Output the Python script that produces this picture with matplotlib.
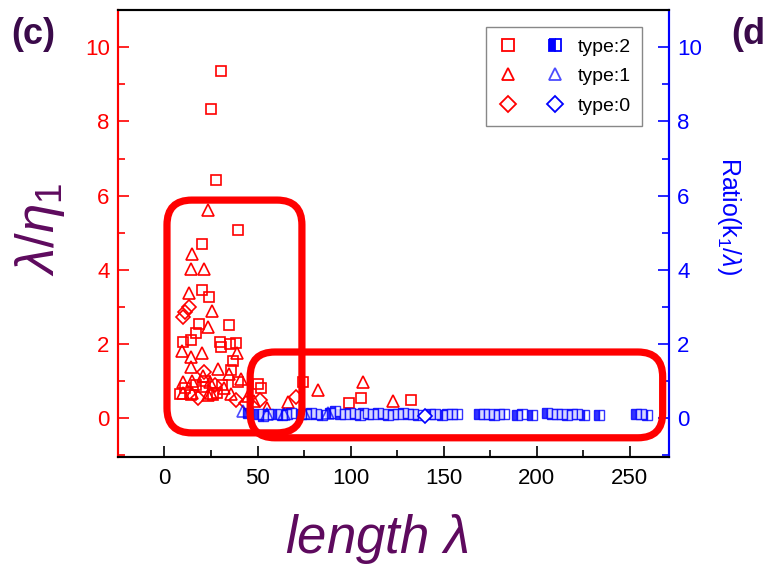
import matplotlib.pyplot as plt
from matplotlib.patches import FancyBboxPatch
from matplotlib.legend_handler import HandlerTuple
from matplotlib.lines import Line2D

plt.rcParams['font.family'] = ['Liberation Sans', 'DejaVu Sans']
plt.rcParams['mathtext.fontset'] = 'custom'
plt.rcParams['mathtext.it'] = 'Liberation Sans:italic'
plt.rcParams['mathtext.rm'] = 'Liberation Sans'

RED = '#ff0000'
BLUE = '#0000ff'
PURPLE = '#5e0a5e'

# lambda/eta1 (left axis)
t2_x = [30.2, 24.8, 27.5, 39.3, 19.9, 20.0, 23.7, 34.5, 18.3, 17.0, 9.7, 14.5, 29.6,
        30.2, 35.0, 38.3, 36.6, 36.0, 8.6, 14.5, 17.0, 20.5, 28.0, 10.8, 26.0, 39.5,
        50.0, 52.0, 74.6, 99.0, 105.6, 132.5, 22.0, 31.0]
t2_y = [9.35, 8.33, 6.41, 5.07, 4.69, 3.45, 3.26, 2.50, 2.53, 2.30, 2.05, 2.10, 2.05,
        1.91, 2.00, 2.02, 1.54, 1.30, 0.65, 0.62, 0.89, 0.84, 0.68, 0.80, 0.62, 0.97,
        0.92, 0.80, 0.97, 0.40, 0.54, 0.49, 1.00, 0.90]

t1_x = [23.2, 15.0, 14.4, 21.0, 13.0, 25.4, 23.3, 9.2, 14.0, 20.0, 38.8, 14.5, 29.0,
        34.5, 9.7, 15.0, 20.5, 24.2, 10.0, 15.0, 25.0, 32.0, 41.0, 36.0, 55.0, 66.5,
        82.4, 106.7, 123.0, 23.2, 45.0, 48.0]
t1_y = [5.60, 4.42, 4.02, 4.02, 3.37, 2.88, 2.45, 1.80, 1.65, 1.75, 1.75, 1.37, 1.32,
        1.19, 0.97, 1.00, 1.13, 0.97, 0.68, 0.68, 0.68, 0.80, 1.05, 0.65, 0.27, 0.43,
        0.75, 0.98, 0.46, 0.62, 0.60, 0.45]

t0_x = [13.0, 10.2, 11.0, 18.0, 21.5, 38.6, 51.3, 70.5, 27.0, 44.0]
t0_y = [3.00, 2.72, 2.85, 0.55, 1.24, 0.50, 0.50, 0.57, 0.90, 0.40]

# Ratio(k1/lambda) (right axis)
r2_x = [45.0, 50.3, 53.0, 55.7, 60.2, 62.9, 65.6, 68.2, 73.6, 76.3, 79.0, 81.7, 84.4,
        88.9, 91.6, 94.3, 97.0, 99.7, 102.4, 105.0, 106.9, 109.6, 112.2, 114.9, 117.6,
        120.3, 123.0, 125.7, 128.4, 131.1, 133.8, 136.5, 142.8, 145.5, 149.1, 151.8,
        154.5, 157.2, 168.8, 171.5, 174.2, 176.9, 179.6, 182.3, 189.5, 192.2, 197.6,
        205.7, 208.4, 211.0, 213.7, 216.4, 219.1, 221.8, 225.4, 233.5, 253.2, 255.9,
        259.5]
r2_y = [0.15, 0.10, 0.05, 0.10, 0.12, 0.08, 0.10, 0.15, 0.12, 0.10, 0.15, 0.10, 0.08,
        0.15, 0.18, 0.12, 0.10, 0.15, 0.12, 0.08, 0.15, 0.10, 0.12, 0.15, 0.10,
        0.08, 0.12, 0.10, 0.15, 0.12, 0.10, 0.08, 0.10, 0.10, 0.08, 0.10,
        0.10, 0.10, 0.10, 0.12, 0.10, 0.08, 0.10, 0.10, 0.08, 0.10, 0.08,
        0.15, 0.10, 0.10, 0.10, 0.08, 0.10, 0.10, 0.08, 0.08, 0.12, 0.10,
        0.08]

r1_x = [42.0, 55.0, 64.0, 75.0, 88.0]
r1_y = [0.18, 0.12, 0.12, 0.15, 0.15]

r0_x = [140.0]
r0_y = [0.05]

fig = plt.figure(figsize=(7.66, 5.67), dpi=100)
ax = fig.add_axes([0.154, 0.194, 0.719, 0.788])
ax2 = ax.twinx()

ms = dict(linestyle='none', markerfacecolor='none', markeredgewidth=1.2)
ax.plot(t2_x, t2_y, marker='s', markersize=7, color=RED, **ms)
ax.plot(t1_x, t1_y, marker='^', markersize=9, color=RED, **ms)
ax.plot(t0_x, t0_y, marker='D', markersize=7, color=RED, **ms)

ax2.plot(r2_x, r2_y, marker='s', markersize=7, linestyle='none', color=BLUE,
         fillstyle='left', markerfacecoloralt='white', markeredgewidth=1.0, alpha=0.8)
ax2.plot(r1_x, r1_y, marker='^', markersize=8, color=BLUE, alpha=0.7, **ms)
ax2.plot(r0_x, r0_y, marker='D', markersize=7, color=BLUE, linestyle='none',
         markerfacecolor='white', markeredgewidth=1.2)

for a in (ax, ax2):
    a.set_xlim(-25, 271)
    a.set_ylim(-1.05, 11)
    a.set_yticks([0, 2, 4, 6, 8, 10])
    a.set_yticks(range(-1, 12, 2), minor=True)

ax.set_xticks([0, 50, 100, 150, 200, 250])
ax.set_xticks([25, 75, 125, 175, 225], minor=True)

ax.tick_params(axis='both', which='major', direction='in', length=8, width=1.2, labelsize=16)
ax.tick_params(axis='both', which='minor', direction='in', length=5, width=1.2)
ax.tick_params(axis='y', which='both', colors=RED, labelcolor=RED)
ax.tick_params(axis='x', which='both', colors='black', pad=8)
ax.tick_params(axis='y', pad=6)
ax2.tick_params(axis='y', which='major', direction='in', length=8, width=1.2,
                colors=BLUE, labelcolor=BLUE, labelsize=16, pad=6)
ax2.tick_params(axis='y', which='minor', direction='in', length=5, width=1.2, colors=BLUE)

for a in (ax, ax2):
    a.spines['left'].set_color(RED)
    a.spines['right'].set_color(BLUE)
    a.spines['top'].set_color('black')
    a.spines['bottom'].set_color('black')
    for s in a.spines.values():
        s.set_linewidth(1.5)

ax.set_xlabel(r'$\mathit{length}\ \lambda$', fontsize=38, color=PURPLE)
ax.xaxis.set_label_coords(0.47, -0.122)
ax.set_ylabel(r'$\lambda/\eta_1$', fontsize=38, color=PURPLE)
ax.yaxis.set_label_coords(-0.092, 0.51)
ax2.set_ylabel(r'Ratio(k$_1$/$\lambda$)', fontsize=18, color=BLUE, rotation=270)
ax2.yaxis.set_label_coords(1.135, 0.54)

fig.text(0.015, 0.922, '(c)', fontsize=26, fontweight='bold', color='#3a0a4a')
fig.text(0.955, 0.922, '(d', fontsize=26, fontweight='bold', color='#3a0a4a')

# highlight boxes
box_kw = dict(boxstyle='round,pad=0,rounding_size=0.045', transform=ax.transAxes,
              fill=False, edgecolor=RED, linewidth=5.2, mutation_aspect=551 / 447,
              clip_on=False, zorder=5)
ax2.add_patch(FancyBboxPatch((0.089, 0.054), 0.245, 0.521, **box_kw))
ax2.add_patch(FancyBboxPatch((0.240, 0.043), 0.749, 0.192, **box_kw))

# legend: red and blue marker side by side for each type
h = lambda m, c, **kw: Line2D([], [], marker=m, color=c, linestyle='none',
                               markersize=8, markeredgewidth=1.3, **kw)
handles = [
    (h('s', RED, markerfacecolor='none'),
     h('s', BLUE, fillstyle='left', markerfacecoloralt='white')),
    (h('^', RED, markerfacecolor='none'), h('^', BLUE, markerfacecolor='none', alpha=0.7)),
    (h('D', RED, markerfacecolor='none'), h('D', BLUE, markerfacecolor='none')),
]
leg = ax2.legend(handles, ['type:2', 'type:1', 'type:0'],
                 handler_map={tuple: HandlerTuple(ndivide=None, pad=1.3)},
                 loc='upper right', bbox_to_anchor=(0.962, 0.975), fontsize=14,
                 handlelength=3.6, handletextpad=0.6, labelspacing=0.62,
                 fancybox=False, edgecolor='#888888', framealpha=1, borderpad=0.55,
                 borderaxespad=0.3)
leg.get_frame().set_linewidth(1.0)

fig.savefig('out.png', dpi=100)
